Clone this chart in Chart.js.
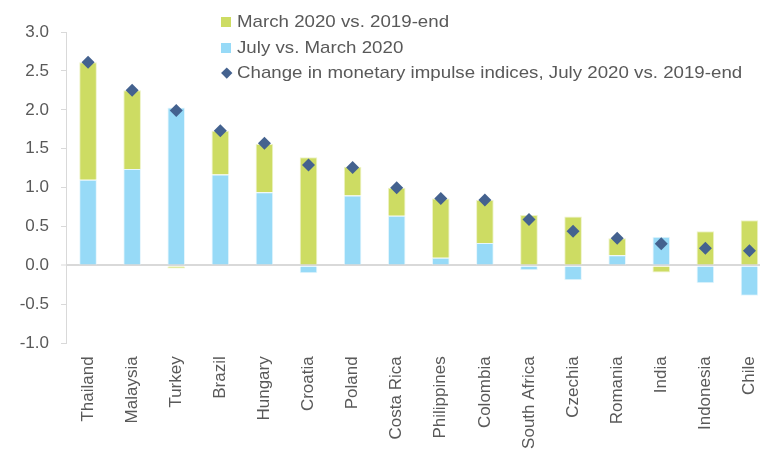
<!DOCTYPE html>
<html>
<head>
<meta charset="utf-8">
<script src="https://cdn.jsdelivr.net/npm/chart.js@4/dist/chart.umd.min.js"></script>
<style>
  html, body { margin: 0; padding: 0; background: #fff; }
  #wrap { position: relative; width: 760px; height: 454px; overflow: hidden; }
  #c { position: absolute; left: 0; top: 0; }
  #legend { position: absolute; left: 221px; top: 9px; font-family: "Liberation Sans", Arial, sans-serif; font-size: 17px; color: #595959; }
  .row { height: 25.7px; display: flex; align-items: center; white-space: nowrap; }
  .txt { display: inline-block; transform: scaleX(1.1); transform-origin: left center; }
  .sw { width: 10px; height: 10px; margin-right: 6px; display: inline-block; flex: none; }
  .dm { width: 7.5px; height: 7.5px; margin: 0 7px 0 1.5px; background: #44628f; transform: rotate(45deg); display: inline-block; flex: none; }
</style>
</head>
<body>
<div id="wrap">
  <canvas id="c" width="778" height="454"></canvas>
  <div id="legend">
    <div class="row"><span class="sw" style="background:#cddc63"></span><span class="txt">March 2020 vs. 2019-end</span></div>
    <div class="row"><span class="sw" style="background:#97daf7"></span><span class="txt">July vs. March 2020</span></div>
    <div class="row"><span class="dm"></span><span class="txt">Change in monetary impulse indices, July 2020 vs. 2019-end</span></div>
  </div>
</div>
<script>
const categories = ["Thailand","Malaysia","Turkey","Brazil","Hungary","Croatia","Poland","Costa Rica","Philippines","Colombia","South Africa","Czechia","Romania","India","Indonesia","Chile"];
const marchVs2019 = [1.51, 1.01, -0.04, 0.56, 0.62, 1.39, 0.37, 0.36, 0.76, 0.55, 0.65, 0.63, 0.22, -0.09, 0.44, 0.58];
const julyVsMarch = [1.10, 1.24, 2.03, 1.17, 0.94, -0.10, 0.90, 0.64, 0.10, 0.29, -0.06, -0.19, 0.13, 0.37, -0.23, -0.39];
const totalChange = [2.61, 2.25, 1.99, 1.73, 1.57, 1.29, 1.26, 1.00, 0.86, 0.84, 0.59, 0.44, 0.35, 0.28, 0.22, 0.19];
const yTicks = [-1.0, -0.5, 0.0, 0.5, 1.0, 1.5, 2.0, 2.5, 3.0];

const font = { family: "'Liberation Sans', Arial, sans-serif", size: 17 };
new Chart(document.getElementById('c'), {
  data: {
    labels: categories,
    datasets: [
      { type: 'line', label: 'Change in monetary impulse indices, July 2020 vs. 2019-end', data: totalChange, showLine: false,
        pointStyle: 'rectRot', pointRadius: 6.5, pointHoverRadius: 6.5, backgroundColor: '#44628f', borderColor: '#44628f', borderWidth: 0, order: 0 },
      { type: 'bar', label: 'July vs. March 2020', data: julyVsMarch, backgroundColor: '#97daf7', borderColor: '#e6f6fd', borderWidth: 1,
        barPercentage: 0.4, categoryPercentage: 1, stack: 's', order: 1 },
      { type: 'bar', label: 'March 2020 vs. 2019-end', data: marchVs2019, backgroundColor: '#cddc63', borderColor: '#eef3c8', borderWidth: 1,
        barPercentage: 0.4, categoryPercentage: 1, stack: 's', order: 2 }
    ]
  },
  options: {
    responsive: false,
    animation: false,
    layout: { padding: { top: 32, right: 0, left: 0, bottom: 0 } },
    plugins: { legend: { display: false }, tooltip: { enabled: false } },
    scales: {
      x: {
        stacked: true,
        grid: { display: false, drawTicks: false },
        border: { display: false },
        ticks: { color: '#595959', font, minRotation: 90, maxRotation: 90, autoSkip: false, padding: 13 },
        afterFit: s => { s.height = 110.7; s.paddingLeft = 0; s.paddingRight = 0; }
      },
      y: {
        stacked: true,
        min: -1, max: 3,
        afterBuildTicks: s => { s.ticks = yTicks.map(v => ({ value: v })); },
        grid: {
          drawOnChartArea: true,
          color: c => (c.tick && c.tick.value === 0) ? '#d9d9d9' : 'rgba(0,0,0,0)',
          lineWidth: c => (c.tick && c.tick.value === 0) ? 2 : 1,
          tickColor: '#d9d9d9', tickLength: 5, tickWidth: 1
        },
        border: { display: true, color: '#d9d9d9', width: 1 },
        ticks: { color: '#595959', font, padding: 12, callback: v => Number(v).toFixed(1) },
        afterFit: s => { s.width = 66; s.paddingTop = 0; s.paddingBottom = 0; }
      }
    }
  }
});
</script>
</body>
</html>
